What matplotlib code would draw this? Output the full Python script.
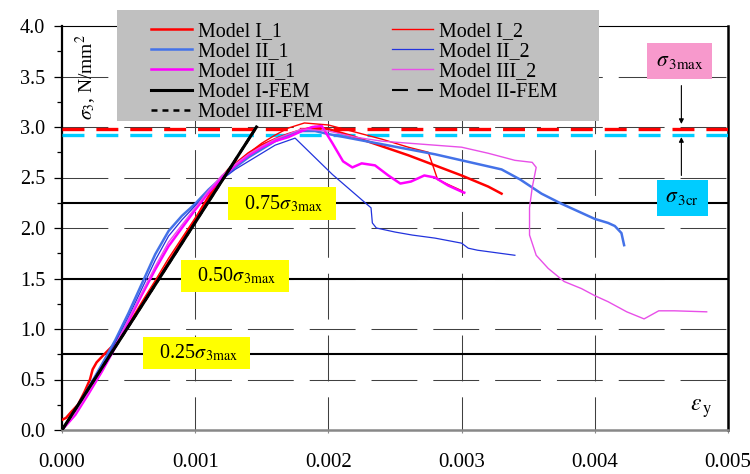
import numpy as np
import matplotlib
matplotlib.use("Agg")
import matplotlib.pyplot as plt
from matplotlib.patches import Rectangle

plt.rcParams['font.family'] = ['Liberation Serif', 'DejaVu Serif']
plt.rcParams['mathtext.fontset'] = 'stix'
plt.rcParams['lines.scale_dashes'] = False

# ---------------- data ----------------
eps_I1 = [0, 0.00003, 0.00007, 0.00012, 0.00017, 0.00021, 0.00023, 0.00026, 0.00031, 0.0004, 0.0005,
          0.0006, 0.0007, 0.0008, 0.0009, 0.001, 0.00105, 0.00115, 0.00125, 0.0014, 0.0015, 0.0016,
          0.0017, 0.0018, 0.0019, 0.002, 0.0022, 0.0024, 0.0026, 0.0028, 0.003, 0.0032, 0.0033]
sig_I1 = [0.1, 0.12, 0.18, 0.25, 0.38, 0.5, 0.6, 0.67, 0.74, 0.86, 1.03,
          1.24, 1.45, 1.66, 1.87, 2.08, 2.2, 2.42, 2.58, 2.74, 2.82, 2.88,
          2.93, 2.97, 3.0, 2.98, 2.9, 2.81, 2.72, 2.62, 2.52, 2.41, 2.34]

eps_I2 = [0, 0.0001, 0.0002, 0.0003, 0.0004, 0.0005, 0.0006, 0.0007, 0.0008, 0.0009, 0.001,
          0.0011, 0.0012, 0.0013, 0.0014, 0.0015, 0.0016, 0.0017, 0.00182, 0.002, 0.0022, 0.0024,
          0.0026, 0.00275, 0.00282, 0.0029, 0.003, 0.00301]
sig_I2 = [0, 0.2, 0.42, 0.63, 0.84, 1.05, 1.27, 1.48, 1.7, 1.9, 2.1,
          2.3, 2.48, 2.62, 2.74, 2.84, 2.92, 2.99, 3.04, 3.02, 2.95, 2.88,
          2.8, 2.75, 2.48, 2.43, 2.37, 2.35]

eps_II1 = [0, 0.0001, 0.0002, 0.0003, 0.0004, 0.0005, 0.0006, 0.0007, 0.0008, 0.0009, 0.001,
           0.0011, 0.0012, 0.0013, 0.0014, 0.0015, 0.0016, 0.0017, 0.0018, 0.0019, 0.002, 0.0022,
           0.0024, 0.0026, 0.0028, 0.003, 0.0032, 0.0033, 0.00344, 0.0036, 0.00375, 0.0039, 0.004,
           0.0041, 0.00415, 0.0042, 0.00422]
sig_II1 = [0, 0.2, 0.42, 0.65, 0.89, 1.16, 1.45, 1.74, 1.97, 2.12, 2.24,
           2.38, 2.5, 2.6, 2.7, 2.78, 2.86, 2.92, 2.96, 2.96, 2.93, 2.88,
           2.83, 2.78, 2.73, 2.67, 2.61, 2.58, 2.48, 2.34, 2.24, 2.15, 2.09,
           2.05, 2.02, 1.95, 1.83]

eps_II2 = [0, 0.0001, 0.0002, 0.0003, 0.0004, 0.0005, 0.0006, 0.0007, 0.0008, 0.0009, 0.001,
           0.0011, 0.0012, 0.0013, 0.0014, 0.0015, 0.0016, 0.00175, 0.00203, 0.00232, 0.00233,
           0.00236, 0.0025, 0.00263, 0.0028, 0.003, 0.00305, 0.00312, 0.0034]
sig_II2 = [0, 0.19, 0.4, 0.62, 0.86, 1.12, 1.4, 1.68, 1.92, 2.08, 2.22,
           2.36, 2.48, 2.58, 2.66, 2.74, 2.82, 2.89, 2.53, 2.2, 2.05,
           2.0, 1.96, 1.93, 1.9, 1.85, 1.80, 1.78, 1.73]

eps_III1 = [0, 0.0001, 0.0002, 0.0003, 0.0004, 0.0005, 0.0006, 0.0007, 0.0008, 0.0009, 0.001,
            0.0011, 0.0012, 0.0013, 0.0014, 0.0015, 0.0016, 0.0017, 0.0018, 0.00188, 0.00195,
            0.00203, 0.00211, 0.00218, 0.00225, 0.00235, 0.00245, 0.00254, 0.00262, 0.00272,
            0.0028, 0.0029, 0.003, 0.00302]
sig_III1 = [0, 0.15, 0.36, 0.58, 0.82, 1.08, 1.34, 1.59, 1.82, 2.0, 2.18,
            2.35, 2.5, 2.62, 2.72, 2.8, 2.86, 2.9, 2.96, 3.0, 3.01,
            2.84, 2.66, 2.6, 2.64, 2.62, 2.52, 2.44, 2.46, 2.52,
            2.5, 2.42, 2.36, 2.35]

eps_III2 = [0, 0.0001, 0.0002, 0.0003, 0.0004, 0.0005, 0.0006, 0.0007, 0.0008, 0.0009, 0.001,
            0.0011, 0.0012, 0.0013, 0.0014, 0.0015, 0.0016, 0.0017, 0.0018, 0.002, 0.0022,
            0.0024, 0.0027, 0.003, 0.0032, 0.0034, 0.00353, 0.00356, 0.00353, 0.00351, 0.00351,
            0.00356, 0.00365, 0.00377, 0.0039, 0.004, 0.0041, 0.00424, 0.00437, 0.00448, 0.0046,
            0.00484]
sig_III2 = [0, 0.17, 0.38, 0.6, 0.84, 1.1, 1.36, 1.62, 1.86, 2.03, 2.2,
            2.37, 2.52, 2.63, 2.73, 2.81, 2.88, 2.93, 2.98, 2.96, 2.9,
            2.86, 2.83, 2.8, 2.74, 2.67, 2.65, 2.6, 2.4, 2.2, 1.93,
            1.73, 1.6, 1.47, 1.4, 1.33, 1.27, 1.17, 1.10, 1.18, 1.18,
            1.17]

eps_FEM = [0, 0.00146]
sig_FEM = [0, 3.0]

sigma_3max = 2.98
sigma_3cr = 2.92
levels = [0.75, 1.5, 2.25]
level_labels = ['0.25', '0.50', '0.75']

x_ticks = [0.000, 0.001, 0.002, 0.003, 0.004, 0.005]
y_ticks = [0.0, 0.5, 1.0, 1.5, 2.0, 2.5, 3.0, 3.5, 4.0]

# ---------------- figure ----------------
W, H = 750, 474
fig = plt.figure(figsize=(W / 100, H / 100), dpi=100)
ax = fig.add_axes([62 / W, 1 - 430 / H, (728 - 62) / W, (430 - 26) / H])
ax.set_xlim(0, 0.005)
ax.set_ylim(0, 4.0)

grid_kw = dict(color='#404040', lw=0.75, linestyle=(0, (33, 11.5)), zorder=1)
for y in y_ticks[1:-1]:
    ax.plot([0, 0.005], [y, y], **grid_kw)
for x in x_ticks[1:-1]:
    ax.plot([x, x], [4.0, 0.0], **grid_kw)
for lv in levels:
    ax.axhline(lv, color='black', lw=1.5, zorder=2)

# sigma lines
ax.plot([0, 0.005], [sigma_3max, sigma_3max], color='#FF0000', lw=2.4,
        linestyle=(0, (15.8, 8.6)), zorder=3, dash_capstyle='butt')
ax.plot([0, 0.005], [sigma_3cr, sigma_3cr], color='#00CCFF', lw=2.4,
        linestyle=(0, (15.8, 8.6)), zorder=3, dash_capstyle='butt')

series = [
    (eps_I1, sig_I1, 'Model I_1', dict(color='#FF0000', lw=1.8)),
    (eps_I2, sig_I2, 'Model I_2', dict(color='#FF0000', lw=1.0)),
    (eps_II1, sig_II1, 'Model II_1', dict(color='#4472E8', lw=1.8)),
    (eps_II2, sig_II2, 'Model II_2', dict(color='#2233DD', lw=0.9)),
    (eps_III1, sig_III1, 'Model III_1', dict(color='#FF00FF', lw=1.8)),
    (eps_III2, sig_III2, 'Model III_2', dict(color='#E84FE8', lw=1.0)),
]
handles = {}
for ex, sy, lab, kw in series:
    h, = ax.plot(ex, sy, zorder=4, **kw)
    handles[lab] = h

h3, = ax.plot(eps_FEM, sig_FEM, color='black', lw=1.8, linestyle=(0, (4.3, 3.6)), zorder=5)
h2, = ax.plot(eps_FEM, sig_FEM, color='black', lw=1.5, linestyle=(0, (11.5, 7)), zorder=5)
h1, = ax.plot(eps_FEM, sig_FEM, color='black', lw=2.2, zorder=6)
handles['Model I-FEM'] = h1
handles['Model II-FEM'] = h2
handles['Model III-FEM'] = h3

# spines
for s in ['left', 'right', 'top', 'bottom']:
    ax.spines[s].set_color('black')
ax.spines['left'].set_linewidth(1.6)
ax.spines['right'].set_linewidth(1.8)
ax.spines['top'].set_linewidth(0.8)
ax.spines['bottom'].set_linewidth(1.8)
ax.spines['bottom'].set_color('#888888')

ax.set_xticks(x_ticks)
ax.set_xticklabels([f'{v:.3f}' for v in x_ticks])
ax.set_yticks(y_ticks)
ax.set_yticklabels([f'{v:.1f}' for v in y_ticks])
ax.set_yticks(np.arange(0.25, 4.0, 0.5), minor=True)
ax.tick_params(axis='x', direction='out', length=2.5, width=0.8, color='#888888',
               labelsize=15, pad=14)
ax.tick_params(axis='y', which='major', direction='out', length=6, width=0.9,
               labelsize=14.5, pad=6)
ax.tick_params(axis='y', which='minor', direction='out', length=3.5, width=0.9)

# level annotation boxes
box_pos = {'0.75': (0.001652, 2.243), '0.50': (0.001299, 1.525), '0.25': (0.00101, 0.762)}
for lab in level_labels:
    bx, by = box_pos[lab]
    ax.text(bx, by, '  ' + lab + r'$\sigma_{\,\rm 3max}$  ', fontsize=14.4, ha='center', va='center',
            bbox=dict(boxstyle='square,pad=0.3', fc='#FFFF00', ec='none'), zorder=7)

ax.text(0.004636, 3.65, r'$\sigma_{\,\rm 3max}$', fontsize=15.5, ha='center', va='center',
        bbox=dict(boxstyle='square,pad=0.4', fc='#F799CC', ec='none'), zorder=7)
ax.text(0.004655, 2.30, r'$\sigma_{\,\rm 3cr}$', fontsize=15.5, ha='center', va='center',
        bbox=dict(boxstyle='square,pad=0.4', fc='#00CCFF', ec='none'), zorder=7)
ax.annotate('', xy=(0.00465, 3.03), xytext=(0.00465, 3.41),
            arrowprops=dict(arrowstyle='-|>', color='black', lw=0.8, mutation_scale=7,
                            shrinkA=0, shrinkB=0), zorder=7)
ax.annotate('', xy=(0.00465, 2.90), xytext=(0.00465, 2.52),
            arrowprops=dict(arrowstyle='-|>', color='black', lw=0.8, mutation_scale=7,
                            shrinkA=0, shrinkB=0), zorder=7)

ax.text(0.00018, 3.495, r'$\sigma_3$, N/mm$^2$', fontsize=14, rotation=90,
        ha='center', va='center', zorder=7)
ax.text(0.0048, 0.208, r'$\varepsilon_{\,\rm y}$', fontsize=17, ha='center', va='center', zorder=7)

# legend background and legend
fig.add_artist(Rectangle((117 / W, 1 - 121 / H), 482 / W, 111 / H, transform=fig.transFigure,
                         fc='#C0C0C0', ec='none', zorder=3))
order = ['Model I_1', 'Model II_1', 'Model III_1', 'Model I-FEM', 'Model III-FEM',
         'Model I_2', 'Model II_2', 'Model III_2', 'Model II-FEM']
leg = fig.legend([handles[k] for k in order], order, ncol=2, loc='upper left',
                 bbox_to_anchor=(151 / W, 1 - 22 / H), frameon=False, fontsize=14.4,
                 handlelength=2.05, handletextpad=0.3, columnspacing=3.45,
                 labelspacing=0.06, borderpad=0, borderaxespad=0)
leg.set_zorder(5)

fig.savefig('out.png', dpi=100)
